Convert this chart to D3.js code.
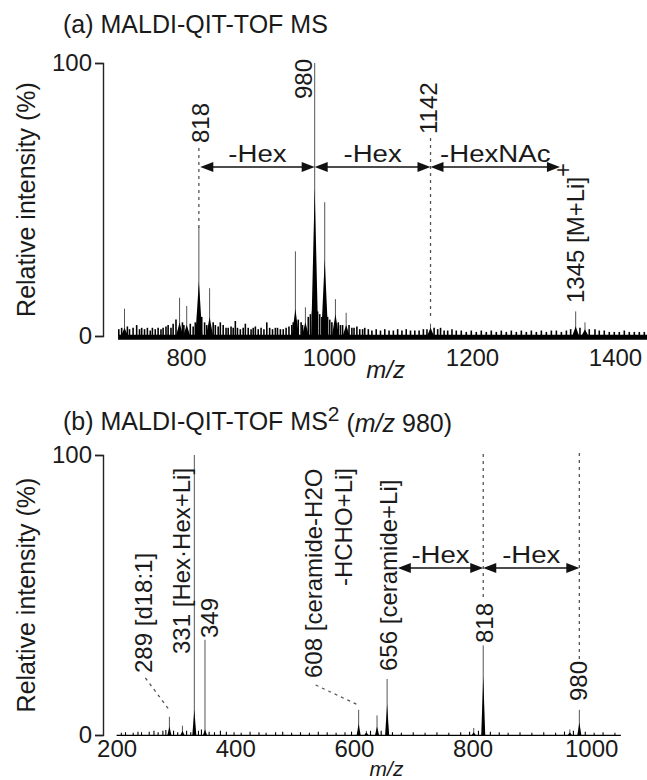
<!DOCTYPE html>
<html>
<head>
<meta charset="utf-8">
<script src="https://cdn.jsdelivr.net/npm/d3@7"></script>
<style>
  body { margin: 0; background: #fff; }
  text { font-family: "Liberation Sans", Arial, sans-serif; fill: #1a1a1a; }
</style>
</head>
<body>
<div id="chart"></div>
<script>
// ---------- PANEL (a) DATA: MALDI-QIT-TOF MS ----------
const aTicks = [800, 1000, 1200, 1400];
const aRange = [705, 1445];
const aPeakMz   = [714, 791, 801, 818, 833, 953, 967, 980, 994, 1009, 1024, 1142, 1345, 1358];
const aPeakTop  = [10, 14, 11, 40, 17.5, 31, 10.5, 100, 49, 13.5, 8.5, 4.5, 9, 5];
const aPeakBody = [3, 5, 4, 20, 7, 10, 5, 54, 28, 8, 4, 3, 3.5, 2.5];
const aNoiseMz = [706, 710, 718, 721, 726, 731, 735, 738, 742, 746, 750, 753, 757, 761, 765, 768, 772, 775, 779, 782,
  786, 795, 797, 806, 810, 813, 822, 826, 829, 838, 841, 845, 848, 852, 856, 859, 863, 866, 869, 872,
  876, 880, 883, 887, 891, 894, 897, 901, 905, 909, 913, 917, 921, 925, 928, 932, 936, 940, 944, 948,
  950, 957, 961, 963, 971, 974, 977, 984, 987, 990, 998, 1001, 1004, 1013, 1016, 1019, 1028, 1032, 1035, 1039,
  1043, 1047, 1050, 1055, 1060, 1066, 1072, 1078, 1084, 1090, 1096, 1102, 1108, 1114, 1120, 1126, 1132, 1137, 1147, 1152,
  1156, 1161, 1166, 1172, 1178, 1185, 1192, 1199, 1206, 1213, 1220, 1227, 1234, 1241, 1248, 1255, 1262, 1269, 1276, 1283,
  1290, 1297, 1304, 1311, 1318, 1325, 1332, 1338, 1351, 1364, 1372, 1378, 1385, 1392, 1399, 1406, 1413, 1420, 1427, 1434, 1441];
const aNoiseH = [2.5, 3, 3.5, 2.5, 3, 4, 2.5, 3, 2.5, 3, 2, 3, 2.5, 3, 2.5, 3, 3.5, 4, 3, 4.5,
  6, 5, 4, 4.5, 3.5, 5, 7, 5, 4, 5, 4, 3.5, 5, 4, 3, 3, 3.5, 3, 5.5, 3,
  2.5, 3, 4.5, 3, 2.5, 3, 3.5, 2.5, 3, 2.5, 5, 3, 2.5, 3, 3, 2.5, 2.5, 3, 3.5, 4,
  5, 6, 5, 4, 7, 8, 9, 9, 8, 7, 7, 6, 5, 5, 4, 4, 4, 3, 3, 3.5,
  2.5, 2.5, 3, 2.5, 2, 2.5, 2, 2.5, 2, 2, 2.5, 2, 2.5, 2, 2, 2, 2.5, 2.5, 3, 2.5,
  3, 2, 2, 2.5, 2, 2, 1.5, 2, 1.5, 2, 1.5, 2, 1.5, 2, 1.5, 2, 1.5, 2, 1.5, 2,
  1.5, 2, 1.5, 2, 2, 1.5, 2, 2.5, 3, 2.5, 2.5, 2, 2, 1.5, 1.5, 1.5, 2, 1.5, 1.5, 1.5, 1.5];
const aArrows = [[820, 980, "-Hex"], [980, 1142, "-Hex"], [1142, 1323, "-HexNAc"]];

// ---------- PANEL (b) DATA: MALDI-QIT-TOF MS2 (m/z 980) ----------
const bTicks = [200, 400, 600, 800, 1000];
const bRange = [200, 1050];
const bPeakMz   = [289, 311, 331, 349, 608, 621, 639, 656, 802, 818, 964, 980];
const bPeakTop  = [6.5, 3.3, 100, 34, 9, 1.5, 7, 20, 2.5, 32, 2, 9];
const bPeakBody = [3, 1.5, 9, 2, 4, 1, 3, 11, 1, 21, 1, 4.5];
const bNoiseMz = [208, 215, 228, 236, 242, 255, 263, 270, 278, 283, 296, 303, 318, 325, 338, 343, 356, 365, 375, 385,
  398, 410, 425, 440, 452, 468, 480, 495, 510, 525, 540, 555, 570, 585, 596, 628, 646, 665, 680, 700,
  720, 740, 760, 780, 795, 810, 830, 845, 860, 880, 900, 920, 940, 955, 970, 990, 1005, 1020, 1040];
const bNoiseH = [0.8, 1, 0.8, 1.2, 1, 1.2, 1.5, 1, 1.5, 1.8, 1.5, 1, 1.5, 1, 1.5, 2, 1.2, 1, 1.5, 1.2,
  1, 0.8, 1.2, 1, 0.8, 1, 1.2, 0.8, 1, 0.8, 1.2, 1, 0.8, 1, 1.2, 1.5, 1.5, 1, 0.8, 1,
  0.8, 1, 0.8, 1, 1.2, 1.5, 1.2, 1, 0.8, 1, 0.8, 1, 0.8, 1.2, 1.5, 1.2, 0.8, 1, 0.8];
const bArrows = [[674, 818, "-Hex"], [818, 980, "-Hex"]];

// ---------- SETUP ----------
const width = 647, height = 780;
const svg = d3.select("#chart").append("svg")
  .attr("width", width)
  .attr("height", height);

const xA = d3.scaleLinear().domain([800, 1400]).range([186, 615]);
const yA = d3.scaleLinear().domain([0, 100]).range([336, 63]);
const xB = d3.scaleLinear().domain([200, 1000]).range([116.6, 591.2]);
const yB = d3.scaleLinear().domain([0, 100]).range([735, 455]);

// draws baseline, noise spikes, peak bodies and thin apex lines
function drawSpectrum(g, x, y, range, peakMz, peakTop, peakBody, noiseMz, noiseH, baseW, halfW, noiseW) {
  g.append("line")
    .attr("x1", x(range[0])).attr("x2", x(range[1]))
    .attr("y1", y(0) + baseW / 4).attr("y2", y(0) + baseW / 4)
    .attr("stroke", "#000").attr("stroke-width", baseW);

  g.selectAll(null).data(d3.zip(noiseMz, noiseH)).join("line")
    .attr("x1", d => x(d[0])).attr("x2", d => x(d[0]))
    .attr("y1", y(0)).attr("y2", d => y(d[1]))
    .attr("stroke", "#000").attr("stroke-width", noiseW);

  g.selectAll(null).data(d3.zip(peakMz, peakTop)).join("line")
    .attr("x1", d => x(d[0])).attr("x2", d => x(d[0]))
    .attr("y1", y(0)).attr("y2", d => y(d[1]))
    .attr("stroke", "#555").attr("stroke-width", 1);

  g.selectAll(null).data(d3.zip(peakMz, peakBody)).join("path")
    .attr("d", d => `M${x(d[0]) - halfW},${y(0)}L${x(d[0])},${y(d[1])}L${x(d[0]) + halfW},${y(0)}Z`)
    .attr("fill", "#000");
}

function yAxis(y) {
  const g = svg.append("g")
    .attr("transform", "translate(103,0)")
    .call(d3.axisLeft(y).tickValues([0, 100]).tickSize(8).tickSizeOuter(8).tickPadding(3));
  g.selectAll("path, line").attr("stroke", "#222").attr("stroke-width", 1.4);
  g.selectAll("text").style("font-size", "24px").style("font-family", "Liberation Sans, Arial, sans-serif").attr("fill", "#1a1a1a");
}

function xAxis(x, ticks, y0, pad) {
  const g = svg.append("g")
    .attr("transform", `translate(0,${y0})`)
    .call(d3.axisBottom(x).tickValues(ticks).tickFormat(d3.format("d")).tickSize(0).tickPadding(pad));
  g.select(".domain").remove();
  g.selectAll("text").style("font-size", "24px").style("font-family", "Liberation Sans, Arial, sans-serif").attr("fill", "#1a1a1a");
}

// rotated (vertical) label, reads bottom to top
function vlabel(x, y, txt, anchor, sup) {
  const t = svg.append("text")
    .attr("transform", `translate(${x},${y}) rotate(-90)`)
    .attr("text-anchor", anchor || "start")
    .attr("dy", "0.35em")
    .style("font-size", "24px")
    .text(txt);
  if (sup) t.append("tspan").attr("dy", "-0.55em").text(sup);
  return t;
}

function dashed(x1, y1, x2, y2) {
  svg.append("line")
    .attr("x1", x1).attr("y1", y1).attr("x2", x2).attr("y2", y2)
    .attr("stroke", "#555").attr("stroke-width", 1.3)
    .attr("stroke-dasharray", "3,4");
}

function arrow(x1, x2, y, label) {
  const hl = 13, hw = 5;
  svg.append("line").attr("x1", x1 + 4).attr("x2", x2 - 4).attr("y1", y).attr("y2", y)
    .attr("stroke", "#111").attr("stroke-width", 1.5);
  svg.append("path").attr("d", `M${x1},${y}L${x1 + hl},${y - hw}L${x1 + hl},${y + hw}Z`).attr("fill", "#111");
  svg.append("path").attr("d", `M${x2},${y}L${x2 - hl},${y - hw}L${x2 - hl},${y + hw}Z`).attr("fill", "#111");
  svg.append("text")
    .attr("transform", `translate(${(x1 + x2) / 2},${y - 5}) scale(1.15,1)`)
    .attr("text-anchor", "middle")
    .style("font-size", "24px")
    .text(label);
}

// ==========================================
//         PANEL (a)
// ==========================================
svg.append("text").attr("x", 63).attr("y", 33).style("font-size", "25px").text("(a) MALDI-QIT-TOF MS");

const gA = svg.append("g");
drawSpectrum(gA, xA, yA, aRange, aPeakMz, aPeakTop, aPeakBody, aNoiseMz, aNoiseH, 5, 3.5, 1.6);
yAxis(yA);
xAxis(xA, aTicks, yA(0), 13);

svg.append("text")
  .attr("transform", `translate(26,${(yA(0) + yA(100)) / 2}) rotate(-90)`)
  .attr("text-anchor", "middle").attr("dy", "0.35em")
  .style("font-size", "25px")
  .text("Relative intensity (%)");

svg.append("text")
  .attr("x", (xA(aRange[0]) + xA(aRange[1])) / 2 + 3).attr("y", 378)
  .attr("text-anchor", "middle").style("font-size", "24px").style("font-style", "italic")
  .text("m/z");

// peak labels (a)
vlabel(xA(818) + 2, 143, "818");
dashed(xA(818), 148, xA(818), yA(40) + 2);
vlabel(xA(980) - 11, 99, "980");
vlabel(xA(1142) - 2, 134, "1142");
dashed(xA(1142), 138, xA(1142), yA(7));
vlabel(xA(1345), 303, "1345 [M+Li]", "start", "+");

aArrows.forEach(d => arrow(xA(d[0]), xA(d[1]), 167, d[2]));

// ==========================================
//         PANEL (b)
// ==========================================
const tB = svg.append("text").attr("x", 63).attr("y", 430).style("font-size", "25px");
tB.append("tspan").text("(b) MALDI-QIT-TOF MS");
tB.append("tspan").attr("dy", "-0.45em").style("font-size", "21px").text("2");
tB.append("tspan").attr("dy", "0.45em").text(" (");
tB.append("tspan").style("font-style", "italic").text("m/z");
tB.append("tspan").text(" 980)");

const gB = svg.append("g");
drawSpectrum(gB, xB, yB, bRange, bPeakMz, bPeakTop, bPeakBody, bNoiseMz, bNoiseH, 1.2, 2, 1.1);
yAxis(yB);
xAxis(xB, bTicks, yB(0), 5);

svg.append("text")
  .attr("transform", `translate(26,${(yB(0) + yB(100)) / 2}) rotate(-90)`)
  .attr("text-anchor", "middle").attr("dy", "0.35em")
  .style("font-size", "25px")
  .text("Relative intensity (%)");

svg.append("text")
  .attr("x", xB(655)).attr("y", 776)
  .attr("text-anchor", "middle").style("font-size", "21px").style("font-style", "italic")
  .text("m/z");

// peak labels (b)
vlabel(xB(289) - 26, 673, "289 [d18:1]");
dashed(xB(289) - 24, 678, xB(289) - 1, yB(6.5) - 8);
vlabel(xB(331) - 13, 654, "331 [Hex\u00B7Hex+Li]");
vlabel(xB(349) + 5, 638, "349");
vlabel(xB(608) - 45, 678, "608 [ceramide-H2O");
vlabel(xB(608) - 15, 468, "-HCHO+Li]", "end");
dashed(xB(608) - 43, 685, xB(608) - 1, yB(9) - 5);
vlabel(xB(656) + 1, 671, "656 [ceramide+Li]");
vlabel(xB(818) + 1, 643, "818");
dashed(xB(818), 597, xB(818), 450);
vlabel(xB(980) - 1, 701, "980");
dashed(xB(980), 659, xB(980), 450);

bArrows.forEach(d => arrow(xB(d[0]), xB(d[1]), 568, d[2]));
</script>
</body>
</html>
